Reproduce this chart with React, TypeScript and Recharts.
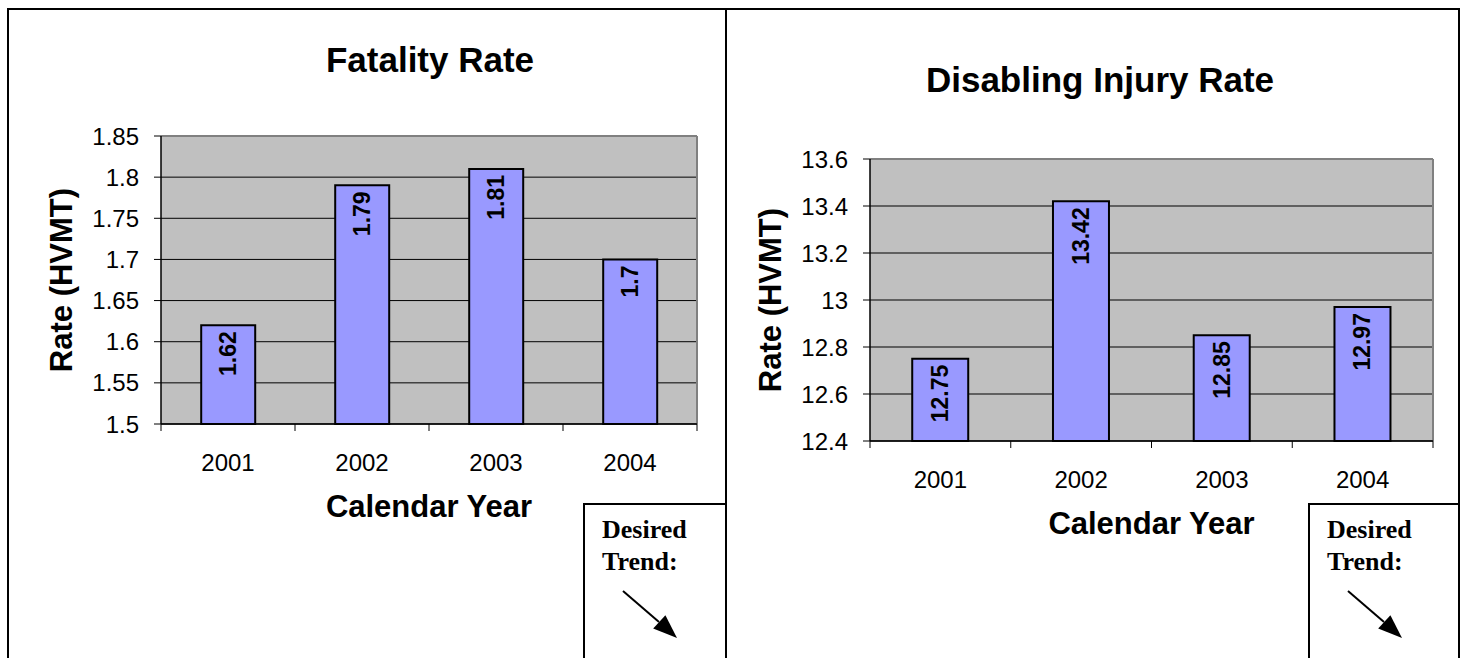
import React from 'react';
import { BarChart, Bar, XAxis, YAxis, CartesianGrid, LabelList } from 'recharts';

const years = ['2001', '2002', '2003', '2004'];
const fatalityRates = [1.62, 1.79, 1.81, 1.7];
const injuryRates = [12.75, 13.42, 12.85, 12.97];
const fatalityTicks = [1.5, 1.55, 1.6, 1.65, 1.7, 1.75, 1.8, 1.85];
const injuryTicks = [12.4, 12.6, 12.8, 13, 13.2, 13.4, 13.6];

const SANS = '"Liberation Sans", Arial, sans-serif';
const SERIF = '"Liberation Serif", "Times New Roman", serif';
const TICK_SIZE = 7;
const X_TICK_MARGIN = 23;

// category labels plus the small tick marks sitting on the band edges
const YearTick = (props: any) => {
  const { x, y, payload, index, visibleTicksCount, width } = props;
  const half = payload.offset ?? width / visibleTicksCount / 2;
  const axisY = y - TICK_SIZE - X_TICK_MARGIN;
  return (
    <g>
      <line x1={x - half} x2={x - half} y1={axisY} y2={axisY + TICK_SIZE} stroke="#000" />
      {index === visibleTicksCount - 1 && (
        <line x1={x + half} x2={x + half} y1={axisY} y2={axisY + TICK_SIZE} stroke="#000" />
      )}
      <text x={x} y={y} dy="0.71em" textAnchor="middle" fontSize={24} fontFamily={SANS} fill="#000">
        {payload.value}
      </text>
    </g>
  );
};

const renderBarLabel = (props: any) => {
  const { x, y, width, value } = props;
  const cx = Number(x) + Number(width) / 2;
  const ty = Number(y) + 6;
  return (
    <text
      x={cx}
      y={ty}
      transform={`rotate(-90, ${cx}, ${ty})`}
      textAnchor="end"
      dominantBaseline="central"
      fontSize={23}
      fontWeight="bold"
      fontFamily={SANS}
      fill="#000"
    >
      {value}
    </text>
  );
};

const gridHLine = (props: any) => (
  <line
    key={props.key}
    x1={props.x1}
    x2={props.x2}
    y1={props.y1}
    y2={props.y2}
    stroke={Math.abs(props.y1 - props.y) < 0.5 ? '#808080' : '#000'}
    strokeWidth={Math.abs(props.y1 - props.y) < 0.5 ? 2 : 1}
  />
);

const gridVLine = (props: any) => (
  <line key={props.key} x1={props.x1} x2={props.x2} y1={props.y1} y2={props.y2} stroke="#808080" strokeWidth={2} />
);

interface PanelProps {
  left: number;
  width: number;
  height: number;
  plotTop: number;
  plotBottom: number;
  plotLeft: number;
  plotRight: number;
  values: number[];
  ticks: number[];
  title: string;
  titleX: number;
  titleY: number;
}

const RatePanel: React.FC<PanelProps> = (p) => {
  const data = years.map((year, i) => ({ year, rate: p.values[i] }));
  const yAxisWidth = 70;
  const xAxisHeight = 40;
  const plotMidX = (p.plotLeft + p.plotRight) / 2;
  const plotMidY = (p.plotTop + p.plotBottom) / 2;
  return (
    <>
      <div style={{ position: 'absolute', left: p.left, top: 0 }}>
        <BarChart
          width={p.width}
          height={p.height}
          data={data}
          barCategoryGap="30%"
          margin={{
            top: p.plotTop,
            right: p.left + p.width - p.plotRight,
            left: p.plotLeft - p.left - yAxisWidth,
            bottom: p.height - p.plotBottom - xAxisHeight,
          }}
        >
          <CartesianGrid
            fill="#c0c0c0"
            horizontal={gridHLine}
            vertical={gridVLine}
            verticalCoordinatesGenerator={({ offset }: any) => [offset.left + offset.width]}
          />
          <XAxis
            dataKey="year"
            height={xAxisHeight}
            axisLine={{ stroke: '#000', strokeWidth: 1.5 }}
            tickLine={{ stroke: 'none' }}
            tickSize={TICK_SIZE}
            tickMargin={X_TICK_MARGIN}
            tick={YearTick}
            interval={0}
          />
          <YAxis
            width={yAxisWidth}
            domain={[p.ticks[0], p.ticks[p.ticks.length - 1]]}
            ticks={p.ticks}
            interval={0}
            axisLine={{ stroke: '#000', strokeWidth: 1.5 }}
            tickLine={{ stroke: '#000' }}
            tickSize={TICK_SIZE}
            tickMargin={15}
            tick={{ fill: '#000', fontSize: 24, fontFamily: SANS }}
          />
          <Bar dataKey="rate" fill="#9999ff" stroke="#000" strokeWidth={2} isAnimationActive={false}>
            <LabelList dataKey="rate" content={renderBarLabel} />
          </Bar>
        </BarChart>
      </div>
      <div
        style={{
          position: 'absolute',
          left: p.titleX,
          top: p.titleY,
          transform: 'translate(-50%, -50%)',
          fontSize: 35,
          fontWeight: 'bold',
          whiteSpace: 'nowrap',
        }}
      >
        {p.title}
      </div>
      <div
        style={{
          position: 'absolute',
          left: p.plotLeft - 99,
          top: plotMidY,
          transform: 'translate(-50%, -50%) rotate(-90deg)',
          fontSize: 31,
          fontWeight: 'bold',
          whiteSpace: 'nowrap',
        }}
      >
        Rate (HVMT)
      </div>
      <div
        style={{
          position: 'absolute',
          left: plotMidX,
          top: p.plotBottom + 83,
          transform: 'translate(-50%, -50%)',
          fontSize: 31,
          fontWeight: 'bold',
          whiteSpace: 'nowrap',
        }}
      >
        Calendar Year
      </div>
    </>
  );
};

const TrendBox: React.FC<{ left: number; width: number }> = ({ left, width }) => (
  <div
    style={{
      position: 'absolute',
      left,
      top: 503,
      width,
      height: 200,
      boxSizing: 'border-box',
      border: '2px solid #000',
      background: '#fff',
      fontFamily: SERIF,
      fontWeight: 'bold',
      fontSize: 26,
      lineHeight: '32px',
      paddingTop: 9,
      paddingLeft: 17,
    }}
  >
    <div>Desired</div>
    <div>Trend:</div>
    <svg width={width} height={160} style={{ position: 'absolute', left: -2, top: -2 }}>
      <line x1={40} y1={88} x2={76} y2={119} stroke="#000" strokeWidth={2} />
      <polygon points="94,135 82.4,112.2 70.2,125.4" fill="#000" />
    </svg>
  </div>
);

const App: React.FC = () => (
  <div
    style={{
      position: 'absolute',
      left: 0,
      top: 0,
      width: 1467,
      height: 658,
      overflow: 'hidden',
      background: '#fff',
      fontFamily: SANS,
      color: '#000',
    }}
  >
    <RatePanel
      left={0}
      width={727}
      height={560}
      plotTop={136}
      plotBottom={424}
      plotLeft={161}
      plotRight={697}
      values={fatalityRates}
      ticks={fatalityTicks}
      title="Fatality Rate"
      titleX={430}
      titleY={60}
    />
    <RatePanel
      left={727}
      width={733}
      height={580}
      plotTop={159}
      plotBottom={441}
      plotLeft={870}
      plotRight={1433}
      values={injuryRates}
      ticks={injuryTicks}
      title="Disabling Injury Rate"
      titleX={1100}
      titleY={80}
    />
    <TrendBox left={583} width={144} />
    <TrendBox left={1308} width={152} />
    <div style={{ position: 'absolute', left: 7, top: 8, width: 1453, height: 2, background: '#000' }} />
    <div style={{ position: 'absolute', left: 7, top: 8, width: 2, height: 650, background: '#000' }} />
    <div style={{ position: 'absolute', left: 725, top: 8, width: 2, height: 650, background: '#000' }} />
    <div style={{ position: 'absolute', left: 1458, top: 8, width: 2, height: 650, background: '#000' }} />
  </div>
);

export default App;
